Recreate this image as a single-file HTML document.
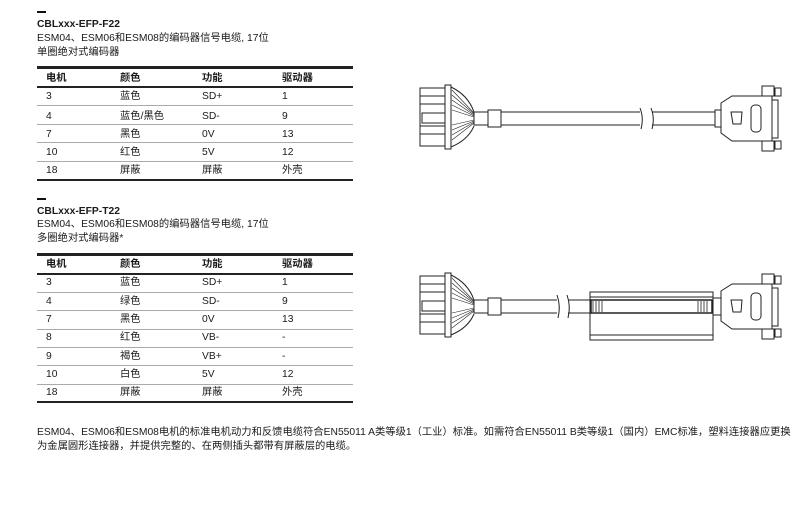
<!DOCTYPE html>
<html><head><meta charset="utf-8"><style>
body{margin:0;width:797px;height:520px;background:#fff;position:relative;font-family:"Liberation Sans","Noto Sans CJK SC",sans-serif;color:#1a1a1a;overflow:hidden}
.t{position:absolute;font-size:10.3px;white-space:nowrap;line-height:12px}
.b{font-weight:bold}
.hl{position:absolute;left:37px;width:316px;background:#222}
.rl{position:absolute;left:37px;width:316px;height:1px;background:#aaa}
</style></head><body>
<!-- section 1 -->
<div style="position:absolute;left:37px;top:11px;width:9px;height:2px;background:#111"></div>
<div class="t b" style="left:37px;top:19px">CBLxxx-EFP-F22</div>
<div class="t" style="left:37px;top:33px">ESM04、ESM06和ESM08的编码器信号电缆, 17位</div>
<div class="t" style="left:37px;top:47px">单圈绝对式编码器</div>
<div class="hl" style="top:66px;height:3px"></div>
<div class="t b" style="left:46px;top:73px">电机</div><div class="t b" style="left:120px;top:73px">颜色</div><div class="t b" style="left:202px;top:73px">功能</div><div class="t b" style="left:282px;top:73px">驱动器</div>
<div class="hl" style="top:86px;height:2px"></div>
<div class="t" style="left:46px;top:91px">3</div><div class="t" style="left:120px;top:91px">蓝色</div><div class="t" style="left:202px;top:91px">SD+</div><div class="t" style="left:282px;top:91px">1</div>
<div class="rl" style="top:105px"></div>
<div class="t" style="left:46px;top:111px">4</div><div class="t" style="left:120px;top:111px">蓝色/黑色</div><div class="t" style="left:202px;top:111px">SD-</div><div class="t" style="left:282px;top:111px">9</div>
<div class="rl" style="top:124px"></div>
<div class="t" style="left:46px;top:129px">7</div><div class="t" style="left:120px;top:129px">黑色</div><div class="t" style="left:202px;top:129px">0V</div><div class="t" style="left:282px;top:129px">13</div>
<div class="rl" style="top:142px"></div>
<div class="t" style="left:46px;top:147px">10</div><div class="t" style="left:120px;top:147px">红色</div><div class="t" style="left:202px;top:147px">5V</div><div class="t" style="left:282px;top:147px">12</div>
<div class="rl" style="top:161px"></div>
<div class="t" style="left:46px;top:165px">18</div><div class="t" style="left:120px;top:165px">屏蔽</div><div class="t" style="left:202px;top:165px">屏蔽</div><div class="t" style="left:282px;top:165px">外壳</div>
<div class="hl" style="top:179px;height:2px"></div>

<!-- section 2 -->
<div style="position:absolute;left:37px;top:198px;width:9px;height:2px;background:#111"></div>
<div class="t b" style="left:37px;top:206px">CBLxxx-EFP-T22</div>
<div class="t" style="left:37px;top:219px">ESM04、ESM06和ESM08的编码器信号电缆, 17位</div>
<div class="t" style="left:37px;top:233px">多圈绝对式编码器*</div>
<div class="hl" style="top:253px;height:3px"></div>
<div class="t b" style="left:46px;top:259px">电机</div><div class="t b" style="left:120px;top:259px">颜色</div><div class="t b" style="left:202px;top:259px">功能</div><div class="t b" style="left:282px;top:259px">驱动器</div>
<div class="hl" style="top:273px;height:2px"></div>
<div class="t" style="left:46px;top:277px">3</div><div class="t" style="left:120px;top:277px">蓝色</div><div class="t" style="left:202px;top:277px">SD+</div><div class="t" style="left:282px;top:277px">1</div>
<div class="rl" style="top:292px"></div>
<div class="t" style="left:46px;top:296px">4</div><div class="t" style="left:120px;top:296px">绿色</div><div class="t" style="left:202px;top:296px">SD-</div><div class="t" style="left:282px;top:296px">9</div>
<div class="rl" style="top:310px"></div>
<div class="t" style="left:46px;top:314px">7</div><div class="t" style="left:120px;top:314px">黑色</div><div class="t" style="left:202px;top:314px">0V</div><div class="t" style="left:282px;top:314px">13</div>
<div class="rl" style="top:329px"></div>
<div class="t" style="left:46px;top:332px">8</div><div class="t" style="left:120px;top:332px">红色</div><div class="t" style="left:202px;top:332px">VB-</div><div class="t" style="left:282px;top:332px">-</div>
<div class="rl" style="top:347px"></div>
<div class="t" style="left:46px;top:351px">9</div><div class="t" style="left:120px;top:351px">褐色</div><div class="t" style="left:202px;top:351px">VB+</div><div class="t" style="left:282px;top:351px">-</div>
<div class="rl" style="top:365px"></div>
<div class="t" style="left:46px;top:369px">10</div><div class="t" style="left:120px;top:369px">白色</div><div class="t" style="left:202px;top:369px">5V</div><div class="t" style="left:282px;top:369px">12</div>
<div class="rl" style="top:384px"></div>
<div class="t" style="left:46px;top:387px">18</div><div class="t" style="left:120px;top:387px">屏蔽</div><div class="t" style="left:202px;top:387px">屏蔽</div><div class="t" style="left:282px;top:387px">外壳</div>
<div class="hl" style="top:401px;height:2px"></div>

<div class="t" style="left:37px;top:427px">ESM04、ESM06和ESM08电机的标准电机动力和反馈电缆符合EN55011 A类等级1（工业）标准。如需符合EN55011 B类等级1（国内）EMC标准，塑料连接器应更换</div>
<div class="t" style="left:37px;top:441px">为金属圆形连接器，并提供完整的、在两侧插头都带有屏蔽层的电缆。</div>

<svg width="797" height="520" style="position:absolute;left:0;top:0" fill="none" stroke="#222" stroke-width="1">
<g id="c1">
 <rect x="420" y="88" width="30" height="58" fill="#fff"/>
 <rect x="445" y="85" width="6" height="64" fill="#fff"/>
 <line x1="420" y1="96" x2="445" y2="96"/><line x1="420" y1="104" x2="445" y2="104"/><line x1="420" y1="126" x2="445" y2="126"/><line x1="420" y1="134" x2="445" y2="134"/>
 <rect x="422" y="113" width="23" height="10" fill="#fff"/>
 <path d="M451 87 Q468 95 474 112 M451 147 Q468 140 474 126" />
 <path d="M452 90 L474 113 M452 95 L474 114 M452 100 L474 115 M452 105 L474 116 M452 110 L474 117 M452 125 L474 120 M452 130 L474 121 M452 135 L474 122 M452 140 L474 123" stroke-width="0.6"/>
 <rect x="474" y="112" width="14" height="13" fill="#fff"/>
 <rect x="488" y="110" width="13" height="17" fill="#fff"/>
 <line x1="501" y1="112" x2="640" y2="112"/><line x1="501" y1="125" x2="640" y2="125"/>
 <path d="M640 108 Q644 118 641 129 M651 108 Q655 118 652 129"/>
 <line x1="652" y1="112" x2="715" y2="112"/><line x1="652" y1="125" x2="715" y2="125"/>
 <rect x="715" y="110" width="6" height="17" fill="#fff"/>
 <path d="M721 103 L732 96 L772 96 L772 141 L732 141 L721 133 Z" fill="#fff"/>
 <path d="M731 112 L742 112 L741 124 L733 124 Z"/>
 <rect x="751" y="105" width="10" height="27" rx="4"/>
 <rect x="772" y="100" width="6" height="38"/>
 <rect x="762" y="86" width="12" height="10" fill="#fff"/><rect x="762" y="141" width="12" height="10" fill="#fff"/>
 <rect x="775" y="88" width="6" height="8"/><rect x="775" y="141" width="6" height="8"/>
</g>
<g transform="translate(0,188)">
 <rect x="420" y="88" width="30" height="58" fill="#fff"/>
 <rect x="445" y="85" width="6" height="64" fill="#fff"/>
 <line x1="420" y1="96" x2="445" y2="96"/><line x1="420" y1="104" x2="445" y2="104"/><line x1="420" y1="126" x2="445" y2="126"/><line x1="420" y1="134" x2="445" y2="134"/>
 <rect x="422" y="113" width="23" height="10" fill="#fff"/>
 <path d="M451 87 Q468 95 474 112 M451 147 Q468 140 474 126" />
 <path d="M452 90 L474 113 M452 95 L474 114 M452 100 L474 115 M452 105 L474 116 M452 110 L474 117 M452 125 L474 120 M452 130 L474 121 M452 135 L474 122 M452 140 L474 123" stroke-width="0.6"/>
 <rect x="474" y="112" width="14" height="13" fill="#fff"/>
 <rect x="488" y="110" width="13" height="17" fill="#fff"/>
 <line x1="501" y1="112" x2="557" y2="112"/><line x1="501" y1="125" x2="557" y2="125"/>
 <path d="M557 107 Q561 118 558 130 M567 107 Q571 118 568 130"/>
 <line x1="568" y1="112" x2="592" y2="112"/><line x1="568" y1="125" x2="592" y2="125"/>
 <rect x="590" y="104" width="123" height="48" fill="#fff"/>
 <line x1="590" y1="109" x2="713" y2="109"/><line x1="590" y1="147" x2="713" y2="147"/>
 <rect x="591" y="112" width="121" height="13" stroke-width="1.5"/>
 <path d="M593 113v11M596 113v11M599 113v11M602 113v11M698 113v11M701 113v11M704 113v11M707 113v11" stroke-width="0.8"/>
 <rect x="713" y="110" width="8" height="17" fill="#fff"/>
 <path d="M721 103 L732 96 L772 96 L772 141 L732 141 L721 133 Z" fill="#fff"/>
 <path d="M731 112 L742 112 L741 124 L733 124 Z"/>
 <rect x="751" y="105" width="10" height="27" rx="4"/>
 <rect x="772" y="100" width="6" height="38"/>
 <rect x="762" y="86" width="12" height="10" fill="#fff"/><rect x="762" y="141" width="12" height="10" fill="#fff"/>
 <rect x="775" y="88" width="6" height="8"/><rect x="775" y="141" width="6" height="8"/>
</g>
</svg>
</body></html>
